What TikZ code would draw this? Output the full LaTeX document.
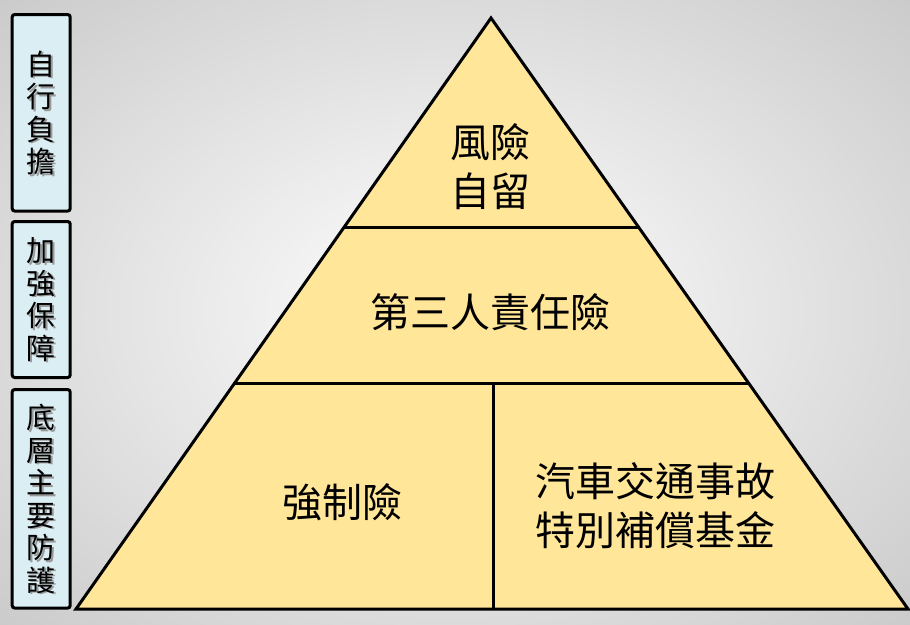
\documentclass[tikz,border=0pt]{standalone}
\usepackage{fontspec}
\setmainfont{Noto Sans CJK TC}
\usetikzlibrary{calc}
\definecolor{pyrfill}{RGB}{255,230,153}
\definecolor{boxfill}{RGB}{218,238,243}
\tikzset{
  sidebox/.style={draw=black, line width=3pt, fill=boxfill, rounded corners=2.5pt, minimum width=58pt, inner sep=0pt},
  sidetext/.style={align=center, inner sep=0pt, font=\fontsize{29}{32.5}\selectfont},
  sideshadow/.style={sidetext, text=black!40},
  pyrtext/.style={align=center, inner sep=0pt, font=\fontsize{40}{49}\selectfont},
  pyrline/.style={line width=3pt}
}
\begin{document}
\begin{tikzpicture}[x=1pt,y=-1pt]
\useasboundingbox (0,0) rectangle (910,624);
\begin{scope}
\clip (0,0) rectangle (910,624);
\shade[inner color=white, outer color=black!21] (-200,-150) rectangle (1110,774);
\end{scope}
% pyramid
\coordinate (top) at (491,18);
\coordinate (bl) at (76,609);
\coordinate (br) at (908,609);
\filldraw[pyrline, fill=pyrfill, line join=miter] (top) -- (bl) -- (br) -- cycle;
\coordinate (l1l) at ($(top)!0.3553!(bl)$);
\coordinate (l1r) at ($(top)!0.3553!(br)$);
\coordinate (l2l) at ($(top)!0.6176!(bl)$);
\coordinate (l2r) at ($(top)!0.6176!(br)$);
\coordinate (vt) at (493,383);
\coordinate (vb) at (493,609);
\draw[pyrline] (l1l) -- (l1r);
\draw[pyrline] (l2l) -- (l2r);
\draw[pyrline] (vt) -- (vb);
\node[pyrtext] (risk) at (490,167) {風險\\自留};
\node[pyrtext] (third) at (490,312) {第三人責任險};
\node[pyrtext] (comp) at (342,502) {強制險};
\node[pyrtext] (fund) at (655,506) {汽車交通事故\\特別補償基金};
% side boxes
\node[sidebox, minimum height=196.5pt] (b1) at (41.2,112.8) {};
\node[sidebox, minimum height=156pt] (b2) at (41.2,299.5) {};
\node[sidebox, minimum height=218.5pt] (b3) at (41.2,498.8) {};
\node[sideshadow] (s1) at ($(b1.center)+(1.5,1.5)$) {自\\行\\負\\擔};
\node[sideshadow] (s2) at ($(b2.center)+(1.5,1.5)$) {加\\強\\保\\障};
\node[sideshadow] (s3) at ($(b3.center)+(1.5,1.5)$) {底\\層\\主\\要\\防\\護};
\node[sidetext] (t1) at (b1.center) {自\\行\\負\\擔};
\node[sidetext] (t2) at (b2.center) {加\\強\\保\\障};
\node[sidetext] (t3) at (b3.center) {底\\層\\主\\要\\防\\護};
\end{tikzpicture}
\end{document}
